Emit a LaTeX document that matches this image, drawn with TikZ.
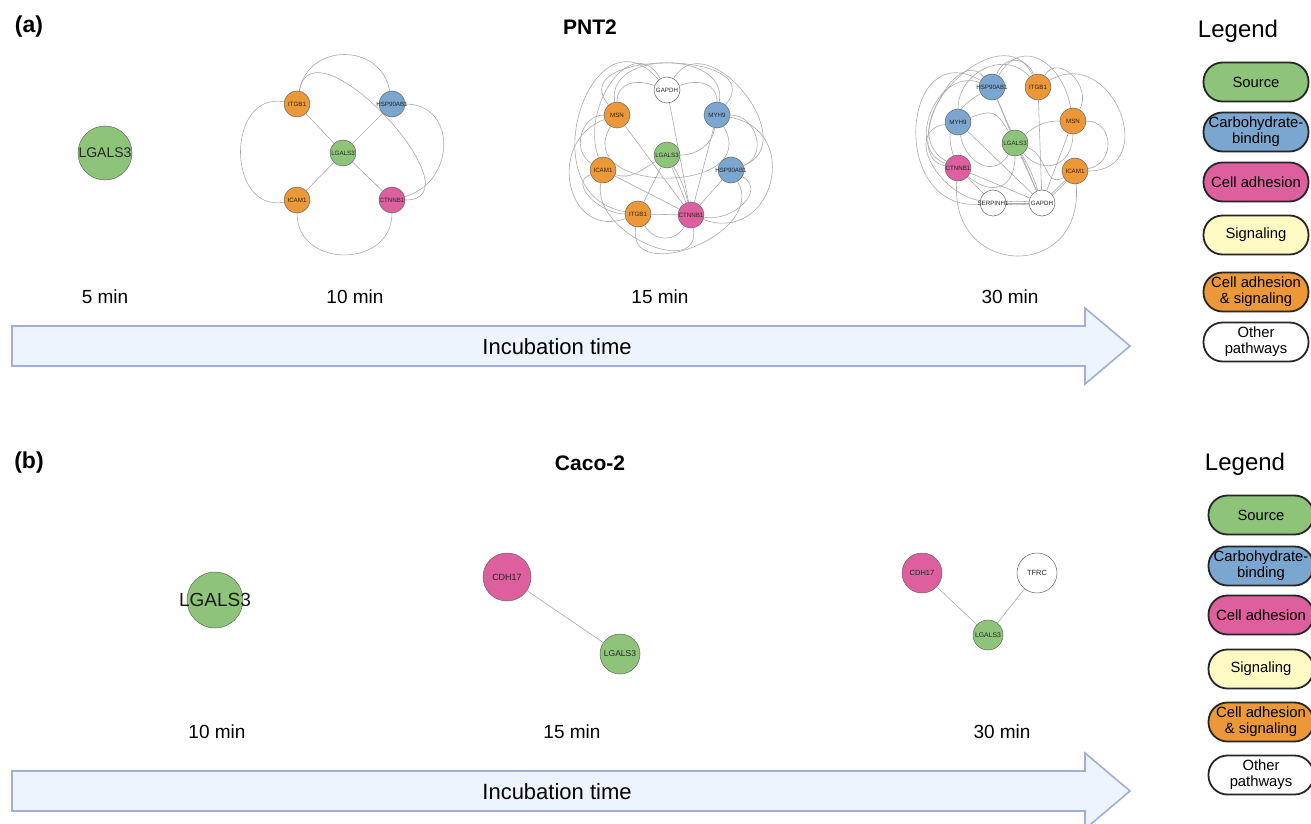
\documentclass[tikz,border=0pt]{standalone}
\usepackage{fontspec}
\setmainfont{Liberation Sans}
\usetikzlibrary{backgrounds}
\definecolor{cgreen}{HTML}{8EC47A}
\definecolor{cblue}{HTML}{7AA6CF}
\definecolor{cpink}{HTML}{DE5F9E}
\definecolor{corange}{HTML}{EC9838}
\definecolor{cyellow}{HTML}{FFF9C4}
\definecolor{arrfill}{HTML}{EEF4FD}
\definecolor{arrline}{HTML}{A0AED8}
\definecolor{edgegray}{HTML}{ABABAB}
\newcommand{\zwlab}[1]{\makebox[0pt][c]{#1}}
\begin{document}
\begin{tikzpicture}[x=1pt,y=1pt,
  gn/.style={circle,draw=black!60,line width=0.5pt,inner sep=0pt,minimum size=26pt,text=black!85,font=\fontsize{6.2}{7}\selectfont},
  ed/.style={draw=edgegray,line width=0.6pt},
  legbox/.style={draw=black!85,line width=1.8pt,rounded corners=19pt,minimum width=105pt,minimum height=39pt,align=center,inner sep=0pt,font=\fontsize{14.8}{16}\selectfont},
  tlabel/.style={font=\fontsize{19}{22}\selectfont},
  ptitle/.style={font=\bfseries\fontsize{23}{26}\selectfont},
  ctitle/.style={font=\bfseries\fontsize{21}{24}\selectfont},
  legtitle/.style={font=\fontsize{24}{27}\selectfont},
  timearrow/.style={fill=arrfill,draw=arrline,line width=1.6pt,line join=miter}
]
\useasboundingbox (0,0) rectangle (1311,-824);
\clip (0,0) rectangle (1311,-824);

% ---------- panel (a) ----------
\node[ptitle] (ta) at (29,-27) {(a)};
\node[ctitle] (tpnt) at (590,-27) {PNT2};
\node[legtitle] (lega) at (1238,-31) {Legend};

% 5 min
\node[gn,fill=cgreen,minimum size=54pt,font=\fontsize{14}{15}\selectfont] (lg5) at (105,-153) {\zwlab{LGALS3}};

% 10 min
\node[gn,fill=corange] (itgb10) at (297,-104) {\zwlab{ITGB1}};
\node[gn,fill=cblue] (hsp10) at (392,-104) {\zwlab{HSP90AB1}};
\node[gn,fill=cgreen] (lg10) at (343,-153) {\zwlab{LGALS3}};
\node[gn,fill=corange] (icam10) at (297,-200) {\zwlab{ICAM1}};
\node[gn,fill=cpink] (ct10) at (392,-200) {\zwlab{CTNNB1}};

% 15 min
\node[gn,fill=white] (gapdh15) at (667,-90) {\zwlab{GAPDH}};
\node[gn,fill=corange] (msn15) at (617,-115) {\zwlab{MSN}};
\node[gn,fill=cblue] (myh15) at (717,-115) {\zwlab{MYH9}};
\node[gn,fill=cgreen] (lg15) at (667,-155) {\zwlab{LGALS3}};
\node[gn,fill=corange] (icam15) at (603,-170) {\zwlab{ICAM1}};
\node[gn,fill=cblue] (hsp15) at (731,-170) {\zwlab{HSP90AB1}};
\node[gn,fill=corange] (itgb15) at (638,-214) {\zwlab{ITGB1}};
\node[gn,fill=cpink] (ct15) at (691,-215) {\zwlab{CTNNB1}};

% 30 min
\node[gn,fill=cblue] (hsp30) at (992,-87) {\zwlab{HSP90AB1}};
\node[gn,fill=corange] (itgb30) at (1038,-87) {\zwlab{ITGB1}};
\node[gn,fill=cblue] (myh30) at (958,-122) {\zwlab{MYH9}};
\node[gn,fill=corange] (msn30) at (1073,-121) {\zwlab{MSN}};
\node[gn,fill=cgreen] (lg30) at (1015,-143) {\zwlab{LGALS3}};
\node[gn,fill=cpink] (ct30) at (958,-168) {\zwlab{CTNNB1}};
\node[gn,fill=corange] (icam30) at (1075,-171) {\zwlab{ICAM1}};
\node[gn,fill=white] (serp30) at (993,-203) {\zwlab{SERPINH1}};
\node[gn,fill=white] (gapdh30) at (1042,-203) {\zwlab{GAPDH}};

% time labels
\node[tlabel] (t5) at (105,-297) {5 min};
\node[tlabel] (t10) at (355,-297) {10 min};
\node[tlabel] (t15) at (660,-297) {15 min};
\node[tlabel] (t30) at (1010,-297) {30 min};

% arrow a
\draw[timearrow] (12,-326) -- (1085,-326) -- (1085,-308) -- (1130,-346) -- (1085,-384) -- (1085,-366) -- (12,-366) -- cycle;
\node[font=\fontsize{22}{25}\selectfont] (inca) at (557,-347) {Incubation time};

% legend a
\node[legbox,fill=cgreen] (la1) at (1256,-82) {Source};
\node[legbox,fill=cblue] (la2) at (1256,-132) {Carbohydrate-\\binding};
\node[legbox,fill=cpink] (la3) at (1256,-182) {Cell adhesion};
\node[legbox,fill=cyellow] (la4) at (1256,-235) {Signaling};
\node[legbox,fill=corange] (la5) at (1256,-292) {Cell adhesion\\\& signaling};
\node[legbox,fill=white] (la6) at (1256,-342) {Other\\pathways};

% ---------- panel (b) ----------
\node[ptitle] (tb) at (29,-463) {(b)};
\node[ctitle] (tcaco) at (590,-463) {Caco-2};
\node[legtitle] (legb) at (1245,-464) {Legend};

\node[gn,fill=cgreen,minimum size=56pt,font=\fontsize{19}{20}\selectfont,text=black!90] (lgb10) at (215,-600) {\zwlab{LGALS3}};
\node[gn,fill=cpink,minimum size=48pt,font=\fontsize{9}{10}\selectfont] (cdh15) at (507,-577) {\zwlab{CDH17}};
\node[gn,fill=cgreen,minimum size=40pt,font=\fontsize{8.5}{9}\selectfont] (lgb15) at (620,-654) {\zwlab{LGALS3}};
\node[gn,fill=cpink,minimum size=40pt,font=\fontsize{7.5}{8}\selectfont] (cdh30) at (922,-573) {\zwlab{CDH17}};
\node[gn,fill=white,minimum size=40pt,font=\fontsize{7.5}{8}\selectfont] (tfrc30) at (1037,-573) {\zwlab{TFRC}};
\node[gn,fill=cgreen,minimum size=30pt,font=\fontsize{6.8}{7}\selectfont] (lgb30) at (988,-635) {\zwlab{LGALS3}};

\node[tlabel] (tb10) at (217,-732) {10 min};
\node[tlabel] (tb15) at (572,-732) {15 min};
\node[tlabel] (tb30) at (1002,-732) {30 min};

\draw[timearrow] (12,-771) -- (1085,-771) -- (1085,-753) -- (1130,-791) -- (1085,-829) -- (1085,-811) -- (12,-811) -- cycle;
\node[font=\fontsize{22}{25}\selectfont] (incb) at (557,-792) {Incubation time};

\node[legbox,fill=cgreen] (lb1) at (1261,-515) {Source};
\node[legbox,fill=cblue] (lb2) at (1261,-566) {Carbohydrate-\\binding};
\node[legbox,fill=cpink] (lb3) at (1261,-615) {Cell adhesion};
\node[legbox,fill=cyellow] (lb4) at (1261,-669) {Signaling};
\node[legbox,fill=corange] (lb5) at (1261,-722) {Cell adhesion\\\& signaling};
\node[legbox,fill=white] (lb6) at (1261,-775) {Other\\pathways};

% ---------- edges ----------
\begin{scope}[on background layer]
\fill[white] (0,0) rectangle (1311,-824);
% 10 min
\draw[ed] (lg10) -- (itgb10);
\draw[ed] (lg10) -- (hsp10);
\draw[ed] (lg10) -- (icam10);
\draw[ed] (lg10) -- (ct10);
\draw[ed] (itgb10) to[out=170,in=190,looseness=1.5] (icam10);
\draw[ed] (icam10) to[out=-90,in=-90,looseness=1.5] (ct10);
\draw[ed] (itgb10) to[out=80,in=100,looseness=1.4] (hsp10);
\draw[ed] (itgb10) to[out=80,in=0,looseness=1.3] (ct10);
\draw[ed] (hsp10) to[out=0,in=15,looseness=1.45] (ct10);
% 15 min
\draw[ed] (msn15) -- (ct15);
\draw[ed] (gapdh15) -- (ct15);
\draw[ed] (lg15) -- (ct15);
\draw[ed] (lg15) to[bend left=8] (ct15);
\draw[ed] (myh15) -- (ct15);
\draw[ed] (hsp15) -- (ct15);
\draw[ed] (icam15) -- (ct15);
\draw[ed] (itgb15) -- (ct15);
\draw[ed] (lg15) -- (itgb15);
\draw[ed] (msn15) to[out=90,in=160,looseness=1.2] (gapdh15);
\draw[ed] (gapdh15) to[out=20,in=90,looseness=1.2] (myh15);
\draw[ed] (msn15) to[out=100,in=80,looseness=1.3] (myh15);
\draw[ed] (icam15) to[out=110,in=120,looseness=1.4] (gapdh15);
\draw[ed] (gapdh15) to[out=60,in=20,looseness=1.5] (hsp15);
\draw[ed] (msn15) to[out=180,in=150,looseness=1.2] (icam15);
\draw[ed] (icam15) to[out=200,in=180,looseness=1.2] (itgb15);
\draw[ed] (msn15) to[out=200,in=200,looseness=1.6] (itgb15);
\draw[ed] (itgb15) to[out=-60,in=-120,looseness=1.2] (ct15);
\draw[ed] (icam15) to[out=-100,in=-80,looseness=1.3] (ct15);
\draw[ed] (myh15) to[out=0,in=20,looseness=1.3] (hsp15);
\draw[ed] (hsp15) to[out=-30,in=-10,looseness=1.3] (ct15);
\draw[ed] (msn15) to[out=-120,in=-60,looseness=1.8] (myh15);
\draw[ed] (lg15) to[out=0,in=-100,looseness=1] (myh15);
\draw[ed] (ct15) to[out=-20,in=-10,looseness=1.8] (myh15);
\draw[ed] (itgb15) to[out=170,in=130,looseness=1.9] (gapdh15);
\draw[ed] (itgb15) to[out=-100,in=-60,looseness=1.4] (hsp15);
\draw[ed] (icam15) to[out=-20,in=-150,looseness=1] (lg15);
\draw[ed] (msn15) to[out=130,in=50,looseness=1.6] (myh15);
% 30 min
\draw[ed] (hsp30) -- (lg30);
\draw[ed] (itgb30) -- (gapdh30);
\draw[ed] (myh30) -- (gapdh30);
\draw[ed] (ct30) -- (gapdh30);
\draw[ed] (ct30) -- (serp30);
\draw[ed] (serp30) -- (gapdh30);
\draw[ed] (serp30) to[bend left=5] (gapdh30);
\draw[ed] (serp30) to[bend right=5] (gapdh30);
\draw[ed] (lg30) -- (gapdh30);
\draw[ed] (lg30) to[bend left=6] (gapdh30);
\draw[ed] (msn30) -- (gapdh30);
\draw[ed] (icam30) -- (gapdh30);
\draw[ed] (icam30) to[bend left=6] (gapdh30);
\draw[ed] (hsp30) -- (gapdh30);
\draw[ed] (ct30) to[out=-95,in=-85,looseness=2.1] (icam30);
\draw[ed] (serp30) to[out=185,in=150,looseness=1.9] (hsp30);
\draw[ed] (ct30) to[out=160,in=160,looseness=1.3] (hsp30);
\draw[ed] (ct30) to[out=150,in=115,looseness=1.5] (itgb30);
\draw[ed] (ct30) to[out=170,in=130,looseness=1.2] (hsp30);
\draw[ed] (hsp30) to[out=70,in=110,looseness=1.4] (itgb30);
\draw[ed] (hsp30) to[out=60,in=100,looseness=1.5] (msn30);
\draw[ed] (itgb30) to[out=60,in=60,looseness=1.4] (msn30);
\draw[ed] (msn30) to[out=0,in=10,looseness=1.5] (icam30);
\draw[ed] (itgb30) to[out=30,in=0,looseness=1.9] (icam30);
\draw[ed] (myh30) to[out=-80,in=-120,looseness=1.4] (lg30);
\draw[ed] (hsp30) to[out=-150,in=110,looseness=1.1] (ct30);
\draw[ed] (myh30) to[out=20,in=120,looseness=1.5] (lg30);
\draw[ed] (lg30) to[out=-20,in=-150,looseness=1.2] (icam30);
\draw[ed] (lg30) to[out=40,in=180,looseness=1] (msn30);
\draw[ed] (lg30) to[out=-50,in=-90,looseness=1.5] (msn30);
\draw[ed] (ct30) to[out=-40,in=-90,looseness=1.6] (lg30);
\draw[ed] (serp30) to[out=170,in=190,looseness=1.3] (myh30);
\draw[ed] (myh30) to[out=90,in=130,looseness=1.2] (itgb30);
% panel b
\draw[ed] (cdh15) -- (lgb15);
\draw[ed] (cdh30) -- (lgb30);
\draw[ed] (tfrc30) -- (lgb30);
\end{scope}
\end{tikzpicture}
\end{document}
